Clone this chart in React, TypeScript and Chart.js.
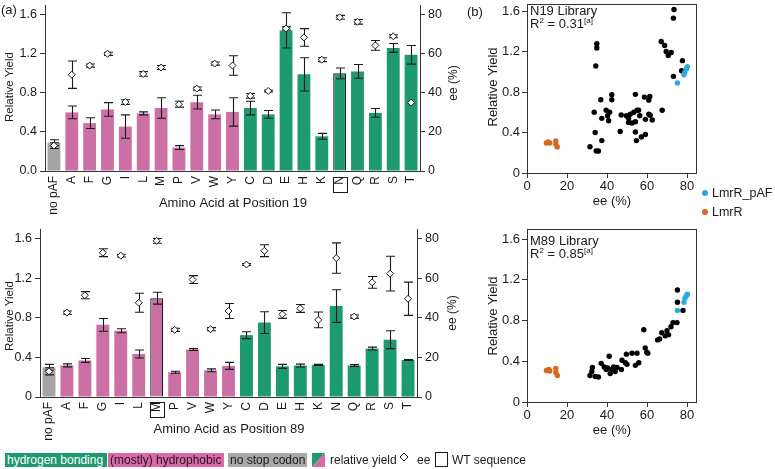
import React, { useEffect, useRef } from 'react';
import { Chart, registerables } from 'chart.js';

Chart.register(...registerables);

const FONT = "'Liberation Sans', Arial, Helvetica, sans-serif";
const W = 775;
const H = 469;

// ---------- data ----------
const aminoAcids = ['no pAF', 'A', 'F', 'G', 'I', 'L', 'M', 'P', 'V', 'W', 'Y', 'C', 'D', 'E', 'H', 'K', 'N', 'Q', 'R', 'S', 'T'];

// N19 library (position 19)
const n19Yield = [0.29, 0.6, 0.49, 0.63, 0.455, 0.59, 0.645, 0.24, 0.705, 0.58, 0.605, 0.645, 0.58, 1.44, 0.99, 0.355, 1.0, 1.02, 0.595, 1.26, 1.19];
const n19YieldErr = [0.03, 0.065, 0.055, 0.07, 0.12, 0.015, 0.105, 0.02, 0.07, 0.045, 0.145, 0.07, 0.04, 0.18, 0.17, 0.03, 0.055, 0.07, 0.045, 0.045, 0.095];
const n19Ee = [13, 49.3, 54, 60, 35.3, 49.7, 53, 34.2, 42.2, 55, 54, 38.5, 41, 73, 68.4, 57, 78.7, 76.4, 64.3, 69, 35];
const n19EeErr = [1.5, 7, 0.8, 0.8, 1.2, 1.2, 1, 1.5, 0.8, 0.8, 5, 1.2, 0.5, 0.8, 4.5, 1, 1, 1.2, 2.5, 0.8, 0];
const n19WtIndex = 16; // N

// M89 library (position 89)
const m89Yield = [0.3, 0.32, 0.37, 0.73, 0.67, 0.435, 1.0, 0.25, 0.48, 0.27, 0.315, 0.626, 0.753, 0.31, 0.318, 0.325, 0.92, 0.318, 0.49, 0.58, 0.375];
const m89YieldErr = [0.03, 0.015, 0.02, 0.065, 0.02, 0.04, 0.06, 0.01, 0.01, 0.015, 0.035, 0.035, 0.11, 0.02, 0.015, 0.005, 0.165, 0.01, 0.015, 0.09, 0.005];
const m89Ee = [13, 42.7, 51.5, 73, 71.5, 47.7, 79, 34, 59.4, 34.3, 43.5, 67, 74, 41.8, 44.8, 39, 70.3, 40.7, 58, 62.4, 49.7];
const m89EeErr = [1.8, 0.8, 1.8, 2, 0.7, 4.8, 1.2, 0.8, 2, 0.8, 3.8, 0.5, 3, 2, 2, 4, 7.7, 0.8, 3, 8.8, 8.4];
const m89WtIndex = 6; // M

// scatter: N19 library variants
const n19LibEe = [73.5, 73.2, 34.9, 34.9, 34.4, 67.1, 68.8, 69.6, 70.6, 72.1, 77.7, 77.3, 73.2, 36.9, 42.4, 42.4, 33.6, 39.6, 41.3, 40.3, 40.8, 37.4, 47.1, 49.7, 50.8, 51.6, 50.8, 52.5, 54.2, 53.4, 55, 54.2, 55.8, 56.4, 58.7, 60.9, 61.4, 59.2, 60.9, 61.6, 62.6, 67.6, 34.1, 46.6, 54.2, 54.7, 57.2, 59.2, 37.4, 31.5, 34.6, 35.7];
const n19LibYield = [1.615, 1.53, 1.277, 1.235, 1.057, 1.3, 1.26, 1.2, 1.16, 1.19, 1.11, 1.01, 0.955, 0.724, 0.774, 0.724, 0.6, 0.62, 0.6, 0.566, 0.517, 0.54, 0.573, 0.566, 0.54, 0.58, 0.5, 0.494, 0.507, 0.6, 0.62, 0.777, 0.62, 0.566, 0.75, 0.72, 0.757, 0.53, 0.58, 0.57, 0.524, 0.62, 0.4, 0.41, 0.405, 0.32, 0.355, 0.38, 0.32, 0.26, 0.217, 0.217];
const n19PafEe = [75.2, 78.5, 78.9, 79.7, 80.2];
const n19PafYield = [0.89, 0.97, 0.995, 1.03, 1.05];
const n19LmrEe = [9.7, 10.6, 11.4, 14.4, 14.4, 15.1];
const n19LmrYield = [0.296, 0.306, 0.296, 0.316, 0.283, 0.257];

// scatter: M89 library variants
const m89LibEe = [75.2, 75.2, 78.0, 58.4, 73.0, 75.0, 72.0, 70.0, 67.4, 69.1, 70.8, 66.3, 65.3, 59.1, 59.9, 60.4, 49.7, 52.5, 55, 41.1, 47.5, 49.2, 50, 55.9, 54.2, 37.1, 38.6, 40.3, 43.3, 45, 47.2, 42.4, 41.6, 44.1, 32.7, 32.4, 31.5, 34.1, 35.7, 39.6];
const m89LibYield = [1.1, 0.98, 0.9, 0.71, 0.78, 0.78, 0.74, 0.7, 0.68, 0.65, 0.66, 0.62, 0.61, 0.53, 0.49, 0.48, 0.47, 0.48, 0.48, 0.45, 0.41, 0.385, 0.37, 0.385, 0.36, 0.38, 0.345, 0.335, 0.345, 0.34, 0.32, 0.32, 0.28, 0.3, 0.34, 0.3, 0.26, 0.25, 0.245, 0.32];
const m89PafEe = [75.2, 78.5, 79, 79.7, 80.2];
const m89PafYield = [0.9, 0.98, 1.02, 1.045, 1.06];
const m89LmrEe = [9.7, 10.9, 11.4, 14.4, 14.4, 15.2];
const m89LmrYield = [0.31, 0.32, 0.305, 0.33, 0.29, 0.26];

// ---------- style ----------
const PINK = '#cb70a5';
const GREEN = '#1e9a6f';
const GRAY = '#a4a4a4';
const BLUE = '#2aaae2';
const ORANGE = '#d8661f';
const AX = '#333333';
const TXT = '#1a1a1a';

type Area = { left: number; right: number; top: number; bottom: number };
type TextItem = { text: string; x: number; y: number; size: number; rotate?: boolean; align?: CanvasTextAlign; baseline?: CanvasTextBaseline };

const fixAxis = (size: number, horizontal: boolean) => (scale: any) => {
  if (horizontal) scale.height = size;
  else scale.width = size;
  scale.paddingTop = 0;
  scale.paddingBottom = 0;
  scale.paddingLeft = 0;
  scale.paddingRight = 0;
};

const textPlugin = (items: TextItem[]) => ({
  id: 'pageTexts',
  afterDraw(chart: any) {
    const ctx = chart.ctx;
    items.forEach((it) => {
      ctx.save();
      ctx.font = `${it.size}px ${FONT}`;
      ctx.fillStyle = TXT;
      ctx.textAlign = it.align || 'center';
      ctx.textBaseline = it.baseline || 'middle';
      ctx.translate(it.x, it.y);
      if (it.rotate) ctx.rotate(-Math.PI / 2);
      ctx.fillText(it.text, 0, 0);
      ctx.restore();
    });
  },
});

const errorBarPlugin = {
  id: 'errorBars',
  afterDatasetDraw(chart: any, args: any) {
    if (!chart.data.datasets[args.index].drawErrorsAfter) return;
    const ctx = chart.ctx;
    chart.data.datasets.forEach((ds: any, i: number) => {
      if (!ds.errors) return;
      const meta = chart.getDatasetMeta(i);
      const yScale = chart.scales[meta.yAxisID];
      meta.data.forEach((el: any, j: number) => {
        const v = ds.data[j];
        const e = ds.errors[j];
        if (!e) return;
        const x = Math.round(el.x) + 0.5;
        const y1 = yScale.getPixelForValue(v + e);
        const y2 = yScale.getPixelForValue(v - e);
        ctx.save();
        ctx.strokeStyle = TXT;
        ctx.lineWidth = 1.1;
        ctx.beginPath();
        ctx.moveTo(x, y1);
        ctx.lineTo(x, y2);
        ctx.moveTo(x - 4.5, y1);
        ctx.lineTo(x + 4.5, y1);
        ctx.moveTo(x - 4.5, y2);
        ctx.lineTo(x + 4.5, y2);
        ctx.stroke();
        ctx.restore();
      });
    });
  },
};

const wtBoxPlugin = (idx: number, gap: number) => ({
  id: 'wtBox',
  afterDraw(chart: any) {
    const xs = chart.scales.x;
    const x = Math.round(xs.getPixelForTick(idx));
    const y0 = Math.round(xs.top + gap);
    const ctx = chart.ctx;
    ctx.save();
    ctx.strokeStyle = TXT;
    ctx.lineWidth = 1;
    ctx.strokeRect(x - 7 + 0.5, y0 + 0.5, 14, 15);
    ctx.restore();
  },
});

const framePlugin = {
  id: 'frame',
  afterDraw(chart: any) {
    const a = chart.chartArea;
    const ctx = chart.ctx;
    ctx.save();
    ctx.strokeStyle = AX;
    ctx.lineWidth = 1;
    ctx.strokeRect(Math.round(a.left) + 0.5, Math.round(a.top) + 0.5, Math.round(a.right - a.left), Math.round(a.bottom - a.top));
    ctx.restore();
  },
};

function barConfig(o: {
  yieldVals: number[]; yieldErr: number[]; ee: number[]; eeErr: number[]; wt: number;
  area: Area; zeroLabel: string; texts: TextItem[]; boxGap: number;
}) {
  const colors = aminoAcids.map((_, i) => (i === 0 ? GRAY : i <= 10 ? PINK : GREEN));
  const a = o.area;
  return {
    type: 'bar',
    data: {
      labels: aminoAcids,
      datasets: [
        {
          type: 'line', label: 'ee', data: o.ee, errors: o.eeErr, yAxisID: 'y2', showLine: false,
          pointStyle: 'rectRot', pointRadius: 3.5, pointBackgroundColor: '#ffffff', pointBorderColor: TXT,
          pointBorderWidth: 1, order: 0,
        },
        {
          type: 'bar', label: 'relative yield', data: o.yieldVals, errors: o.yieldErr, drawErrorsAfter: true,
          yAxisID: 'y', backgroundColor: colors,
          borderColor: aminoAcids.map((_, i) => (i === o.wt ? TXT : 'rgba(0,0,0,0)')),
          borderWidth: aminoAcids.map((_, i) => (i === o.wt ? 1.2 : 0)),
          barPercentage: 0.72, categoryPercentage: 1, order: 1,
        },
      ],
    },
    options: {
      responsive: false, animation: false, devicePixelRatio: 1,
      layout: { padding: { top: a.top, left: 0, right: 0, bottom: 0 } },
      plugins: { legend: { display: false }, tooltip: { enabled: false } },
      scales: {
        x: {
          type: 'category', offset: true,
          grid: { display: false, drawTicks: false },
          border: { display: true, color: AX, width: 1 },
          ticks: { autoSkip: false, minRotation: 90, maxRotation: 90, padding: 5, color: TXT, font: { family: FONT, size: 12 } },
          afterFit: fixAxis(H - a.bottom, true),
        },
        y: {
          position: 'left', min: 0, max: 1.7,
          grid: { drawOnChartArea: false, drawTicks: true, tickLength: 5, color: AX },
          border: { display: true, color: AX, width: 1 },
          ticks: {
            stepSize: 0.4, includeBounds: false, padding: 3, color: TXT, font: { family: FONT, size: 12.5 },
            callback: (v: number) => (v === 0 ? o.zeroLabel : v.toFixed(1)),
          },
          afterFit: fixAxis(a.left, false),
        },
        y2: {
          position: 'right', min: 0, max: 85,
          grid: { drawOnChartArea: false, drawTicks: true, tickLength: 5, color: AX },
          border: { display: true, color: AX, width: 1 },
          ticks: { stepSize: 20, includeBounds: false, padding: 3, color: TXT, font: { family: FONT, size: 12.5 } },
          afterFit: fixAxis(W - a.right, false),
        },
      },
    },
    plugins: [errorBarPlugin, wtBoxPlugin(o.wt, o.boxGap), textPlugin(o.texts)],
  };
}

const pts = (xs: number[], ys: number[]) => xs.map((x, i) => ({ x, y: ys[i] }));

function scatterConfig(o: {
  libEe: number[]; libYield: number[]; pafEe: number[]; pafYield: number[]; lmrEe: number[]; lmrYield: number[];
  area: Area; yMax: number; texts: TextItem[];
}) {
  const a = o.area;
  const pointBase = { pointRadius: 2.7, borderWidth: 0, pointHoverRadius: 2.7 };
  return {
    type: 'scatter',
    data: {
      datasets: [
        { label: 'LmrR_pAF', data: pts(o.pafEe, o.pafYield), backgroundColor: BLUE, ...pointBase, order: 0 },
        { label: 'LmrR', data: pts(o.lmrEe, o.lmrYield), backgroundColor: ORANGE, ...pointBase, order: 0 },
        { label: 'library', data: pts(o.libEe, o.libYield), backgroundColor: '#000000', ...pointBase, order: 1 },
      ],
    },
    options: {
      responsive: false, animation: false, devicePixelRatio: 1,
      layout: { padding: { top: a.top, left: a.left - 40, right: W - a.right, bottom: H - a.bottom - 40 } },
      plugins: { legend: { display: false }, tooltip: { enabled: false } },
      scales: {
        x: {
          type: 'linear', min: 0, max: 84.5,
          grid: { drawOnChartArea: false, drawTicks: true, tickLength: 5, color: AX },
          border: { display: true, color: AX, width: 1 },
          ticks: { stepSize: 20, includeBounds: false, padding: 1, color: TXT, font: { family: FONT, size: 13 } },
          afterFit: fixAxis(40, true),
        },
        y: {
          type: 'linear', min: 0, max: o.yMax,
          grid: { drawOnChartArea: false, drawTicks: true, tickLength: 5, color: AX },
          border: { display: true, color: AX, width: 1 },
          ticks: {
            stepSize: 0.4, includeBounds: false, padding: 2, color: TXT, font: { family: FONT, size: 13 },
            callback: (v: number) => (v === 0 ? '0' : v.toFixed(1)),
          },
          afterFit: fixAxis(40, false),
        },
      },
    },
    plugins: [framePlugin, textPlugin(o.texts)],
  };
}

function ChartCanvas({ make }: { make: () => any }) {
  const ref = useRef<HTMLCanvasElement>(null);
  useEffect(() => {
    const chart = new Chart(ref.current as HTMLCanvasElement, make());
    return () => chart.destroy();
  }, []);
  return (
    <canvas
      ref={ref}
      width={W}
      height={H}
      style={{ position: 'absolute', left: 0, top: 0, width: W, height: H, pointerEvents: 'none' }}
    />
  );
}

const txt = (left: number, midY: number, size: number, extra: any = {}) => ({
  position: 'absolute' as const,
  left,
  top: midY - 8,
  height: 16,
  lineHeight: '16px',
  fontSize: size,
  fontFamily: FONT,
  color: TXT,
  whiteSpace: 'nowrap' as const,
  ...extra,
});

function RSquared({ left, midY, value }: { left: number; midY: number; value: string }) {
  return (
    <div style={txt(left, midY, 13)}>
      R<span style={{ fontSize: 8, position: 'relative', top: -5 }}>2</span> = {value}
      <span style={{ fontSize: 8, position: 'relative', top: -5 }}>[a]</span>
    </div>
  );
}

export default function App() {
  const topBar = () =>
    barConfig({
      yieldVals: n19Yield, yieldErr: n19YieldErr, ee: n19Ee, eeErr: n19EeErr, wt: n19WtIndex,
      area: { left: 45, right: 420, top: 0, bottom: 171 }, zeroLabel: '0.0', boxGap: 6,
      texts: [
        { text: 'Relative Yield', x: 10, y: 87, size: 11.5, rotate: true },
        { text: 'Amino Acid at Position 19', x: 233, y: 207, size: 13, baseline: 'alphabetic' },
        { text: 'ee (%)', x: 454, y: 83, size: 12, rotate: true },
      ],
    });
  const bottomBar = () =>
    barConfig({
      yieldVals: m89Yield, yieldErr: m89YieldErr, ee: m89Ee, eeErr: m89EeErr, wt: m89WtIndex,
      area: { left: 40, right: 417, top: 229, bottom: 397 }, zeroLabel: '0', boxGap: 5,
      texts: [
        { text: 'Relative Yield', x: 10, y: 316, size: 11.5, rotate: true },
        { text: 'Amino Acid as Position 89', x: 229, y: 433, size: 13, baseline: 'alphabetic' },
        { text: 'ee (%)', x: 453, y: 313, size: 12, rotate: true },
      ],
    });
  const topScatter = () =>
    scatterConfig({
      libEe: n19LibEe, libYield: n19LibYield, pafEe: n19PafEe, pafYield: n19PafYield, lmrEe: n19LmrEe, lmrYield: n19LmrYield,
      area: { left: 527, right: 696, top: 4, bottom: 173 }, yMax: 1.67,
      texts: [
        { text: 'Relative Yield', x: 493, y: 87, size: 13, rotate: true },
        { text: 'ee (%)', x: 612, y: 201, size: 13 },
      ],
    });
  const bottomScatter = () =>
    scatterConfig({
      libEe: m89LibEe, libYield: m89LibYield, pafEe: m89PafEe, pafYield: m89PafYield, lmrEe: m89LmrEe, lmrYield: m89LmrYield,
      area: { left: 527, right: 696, top: 229, bottom: 402 }, yMax: 1.7,
      texts: [
        { text: 'Relative Yield', x: 493, y: 316, size: 13, rotate: true },
        { text: 'ee (%)', x: 612, y: 430, size: 13 },
      ],
    });

  const legendBox = (left: number, width: number, bg: string, color: string, label: string) => (
    <div
      style={{
        position: 'absolute', left, top: 453, width, height: 14, background: bg, color,
        fontFamily: FONT, fontSize: 12, lineHeight: '14px', paddingLeft: 2, boxSizing: 'border-box', whiteSpace: 'nowrap',
      }}
    >
      {label}
    </div>
  );

  return (
    <div style={{ position: 'fixed', left: 0, top: 0, width: W, height: H, background: '#ffffff', overflow: 'hidden' }}>
      <ChartCanvas make={topBar} />
      <ChartCanvas make={bottomBar} />
      <ChartCanvas make={topScatter} />
      <ChartCanvas make={bottomScatter} />

      <div style={txt(1, 10, 13)}>(a)</div>
      <div style={txt(467, 12, 13)}>(b)</div>

      <div style={txt(530, 10.5, 13)}>N19 Library</div>
      <RSquared left={530} midY={23.5} value="0.31" />
      <div style={txt(530, 240.5, 13)}>M89 Library</div>
      <RSquared left={530} midY={253.5} value="0.85" />

      <div style={{ position: 'absolute', left: 702, top: 190, width: 6, height: 6, borderRadius: 3, background: BLUE }} />
      <div style={txt(712, 193, 12.5)}>LmrR_pAF</div>
      <div style={{ position: 'absolute', left: 702, top: 209, width: 6, height: 6, borderRadius: 3, background: ORANGE }} />
      <div style={txt(712, 212, 12.5)}>LmrR</div>

      {legendBox(5, 102, GREEN, '#ffffff', 'hydrogen bonding')}
      {legendBox(108, 116, '#dc68ab', TXT, '(mostly) hydrophobic')}
      {legendBox(228, 79, '#a8a8a8', TXT, 'no stop codon')}
      <svg style={{ position: 'absolute', left: 312, top: 453 }} width={13} height={14}>
        <polygon points="0,0 13,0 0,14" fill={GREEN} />
        <polygon points="13,0 13,14 0,14" fill="#dc68ab" />
      </svg>
      <div style={txt(330, 460, 12)}>relative yield</div>
      <svg style={{ position: 'absolute', left: 399, top: 452 }} width={10} height={10}>
        <polygon points="5,1 9,5 5,9 1,5" fill="#ffffff" stroke={TXT} strokeWidth={1} />
      </svg>
      <div style={txt(417, 460, 12)}>ee</div>
      <div style={{ position: 'absolute', left: 435, top: 452, width: 13, height: 15, border: `1.5px solid ${TXT}`, boxSizing: 'border-box' }} />
      <div style={txt(452, 460, 12)}>WT sequence</div>
    </div>
  );
}
